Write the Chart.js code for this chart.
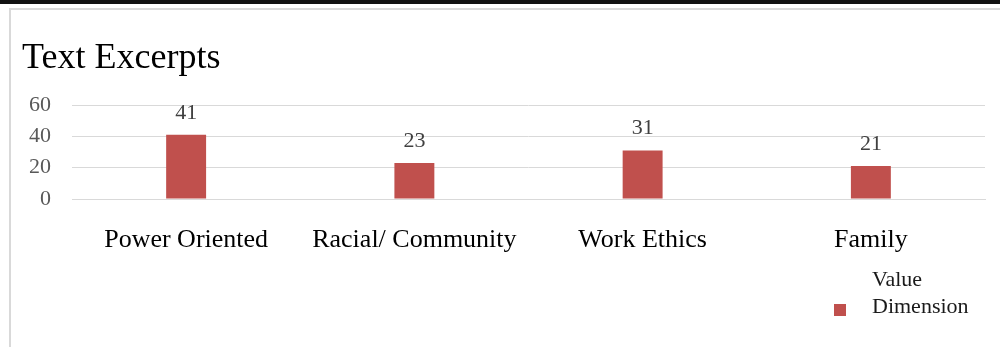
<!DOCTYPE html>
<html lang="en">
<head>
  <meta charset="UTF-8" />
  <title>Text Excerpts</title>
  <script src="https://cdn.jsdelivr.net/npm/chart.js"></script>
  <style>
    body { margin: 0; background: #fff; }
    .topline { position: absolute; left: 0; top: 0; width: 1000px; height: 4px; background: #111; }
    .frame { position: absolute; left: 9px; top: 8px; width: 991px; height: 339px;
             border-top: 2px solid #d9d9d9; border-left: 2px solid #d9d9d9; }
    .chart-container { position: absolute; left: 0; top: 0; width: 1000px; height: 347px; }
  </style>
</head>
<body>
  <div class="topline"></div>
  <div class="frame"></div>
  <div class="chart-container"><canvas id="excerptChart"></canvas></div>

  <script>
    const categories = ['Power Oriented', 'Racial/ Community', 'Work Ethics', 'Family'];
    const excerptCounts = [41, 23, 31, 21];
    const yTicks = [0, 20, 40, 60];
    const seriesName = ['Value', 'Dimension'];
    const chartTitle = 'Text Excerpts';

    const SERIF = '"Liberation Serif", "Times New Roman", serif';
    const BAR_RED = '#C0504D';

    // title, value labels and legend are drawn by hand to sit like the original
    const extrasPlugin = {
      id: 'extras',
      afterDatasetsDraw(chart) {
        const ctx = chart.ctx;
        ctx.save();
        ctx.textBaseline = 'alphabetic';

        ctx.fillStyle = '#000';
        ctx.font = '36px ' + SERIF;
        ctx.textAlign = 'left';
        ctx.fillText(chartTitle, 22, 68);

        ctx.fillStyle = '#404040';
        ctx.font = '22px ' + SERIF;
        ctx.textAlign = 'center';
        chart.getDatasetMeta(0).data.forEach((bar, i) => {
          ctx.fillText(chart.data.datasets[0].data[i], bar.x, bar.y - 16);
        });

        ctx.fillStyle = BAR_RED;
        ctx.fillRect(834, 304, 12, 12);
        ctx.fillStyle = '#1a1a1a';
        ctx.font = '22px ' + SERIF;
        ctx.textAlign = 'left';
        const lbl = chart.data.datasets[0].label;
        ctx.fillText(lbl[0], 872, 286);
        ctx.fillText(lbl[1], 872, 313);
        ctx.restore();
      }
    };

    new Chart(document.getElementById('excerptChart'), {
      type: 'bar',
      data: {
        labels: categories,
        datasets: [{
          label: seriesName,
          data: excerptCounts,
          backgroundColor: BAR_RED,
          barPercentage: 0.7,
          categoryPercentage: 0.25
        }]
      },
      options: {
        responsive: true,
        maintainAspectRatio: false,
        animation: false,
        layout: { padding: { top: 105, right: 15, left: 0, bottom: 0 } },
        plugins: {
          legend: { display: false },
          title: { display: false },
          tooltip: { enabled: false }
        },
        scales: {
          x: {
            grid: { display: false, drawTicks: false },
            border: { color: '#d9d9d9', width: 1 },
            ticks: { color: '#000', padding: 26, font: { family: SERIF, size: 26 } },
            afterFit(scale) { scale.height = 148; }
          },
          y: {
            min: 0,
            max: 60,
            afterBuildTicks(scale) { scale.ticks = yTicks.map(v => ({ value: v })); },
            grid: { color: '#d9d9d9', drawTicks: false },
            border: { display: false },
            ticks: { color: '#595959', padding: 21, font: { family: SERIF, size: 22 } },
            afterFit(scale) { scale.width = 72; }
          }
        }
      },
      plugins: [extrasPlugin]
    });
  </script>
</body>
</html>
